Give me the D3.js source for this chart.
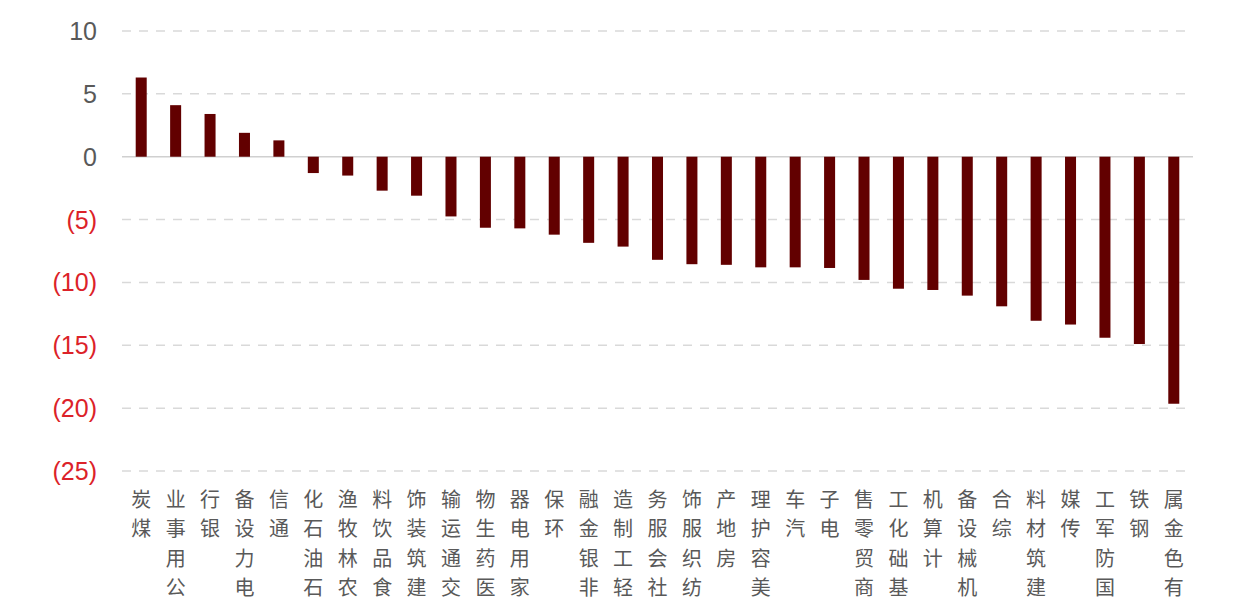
<!DOCTYPE html>
<html>
<head>
<meta charset="utf-8">
<script src="https://cdn.jsdelivr.net/npm/d3@7/dist/d3.min.js"></script>
<style>
  html, body { margin: 0; padding: 0; background: #ffffff; }
  svg { display: block; }
</style>
</head>
<body>
<svg id="chart" width="1248" height="616"></svg>
<script>
const categories = ["煤炭","公用事业","银行","电力设备","通信","石油石化","农林牧渔","食品饮料","建筑装饰","交通运输","医药生物","家用电器","环保","非银金融","轻工制造","社会服务","纺织服饰","房地产","美容护理","汽车","电子","商贸零售","基础化工","计算机","机械设备","综合","建筑材料","传媒","国防军工","钢铁","有色金属"];
const values = [6.3, 4.1, 3.4, 1.9, 1.3, -1.3, -1.5, -2.7, -3.1, -4.75, -5.65, -5.7, -6.2, -6.85, -7.15, -8.2, -8.55, -8.6, -8.8, -8.8, -8.85, -9.8, -10.5, -10.6, -11.05, -11.9, -13.05, -13.35, -14.4, -14.9, -19.65];
const yTicks = [10, 5, 0, -5, -10, -15, -20, -25];

const svg = d3.select("#chart");
const plotLeft = 124, plotRight = 1191;

const y = d3.scaleLinear().domain([-25, 10]).range([471, 31]);
const x = d3.scaleBand().domain(categories).range([plotLeft, plotRight]).paddingInner(0.68).paddingOuter(0.34);

// gridlines
svg.append("g").selectAll("line")
  .data(yTicks.filter(d => d !== 0))
  .join("line")
  .attr("x1", 122).attr("x2", 1192)
  .attr("y1", d => y(d)).attr("y2", d => y(d))
  .attr("stroke", "#d9d9d9")
  .attr("stroke-width", 1.5)
  .attr("stroke-dasharray", "9,8");

// zero line
svg.append("line")
  .attr("x1", 122).attr("x2", 1193)
  .attr("y1", y(0)).attr("y2", y(0))
  .attr("stroke", "#d0d0d0")
  .attr("stroke-width", 1.5);

// y-axis labels
const fmt = d => d < 0 ? "(" + Math.abs(d) + ")" : String(d);
svg.append("g").selectAll("text")
  .data(yTicks)
  .join("text")
  .attr("x", 97)
  .attr("y", d => y(d))
  .attr("dy", "0.36em")
  .attr("text-anchor", "end")
  .attr("font-family", "Liberation Sans, Arial, sans-serif")
  .attr("font-size", 25)
  .attr("fill", d => d < 0 ? "#dc2229" : "#595959")
  .text(fmt);

// bars
svg.append("g").selectAll("rect")
  .data(categories.map((c, i) => ({c, v: values[i]})))
  .join("rect")
  .attr("x", d => x(d.c))
  .attr("width", x.bandwidth())
  .attr("y", d => y(Math.max(0, d.v)))
  .attr("height", d => Math.abs(y(d.v) - y(0)))
  .attr("fill", "#620000");

// x labels: upright characters, read bottom-to-top, top-anchored
const pitch = 29.5;
const labelTop = 489;
const lg = svg.append("g");
categories.forEach(c => {
  const chars = Array.from(c).reverse();
  const cx = x(c) + x.bandwidth() / 2;
  chars.forEach((ch, j) => {
    lg.append("text")
      .attr("x", cx)
      .attr("y", labelTop + j * pitch)
      .attr("dy", "0.88em")
      .attr("text-anchor", "middle")
      .attr("font-family", "Noto Sans CJK SC, sans-serif")
      .attr("font-size", 20)
      .attr("fill", "#595959")
      .text(ch);
  });
});
</script>
</body>
</html>
